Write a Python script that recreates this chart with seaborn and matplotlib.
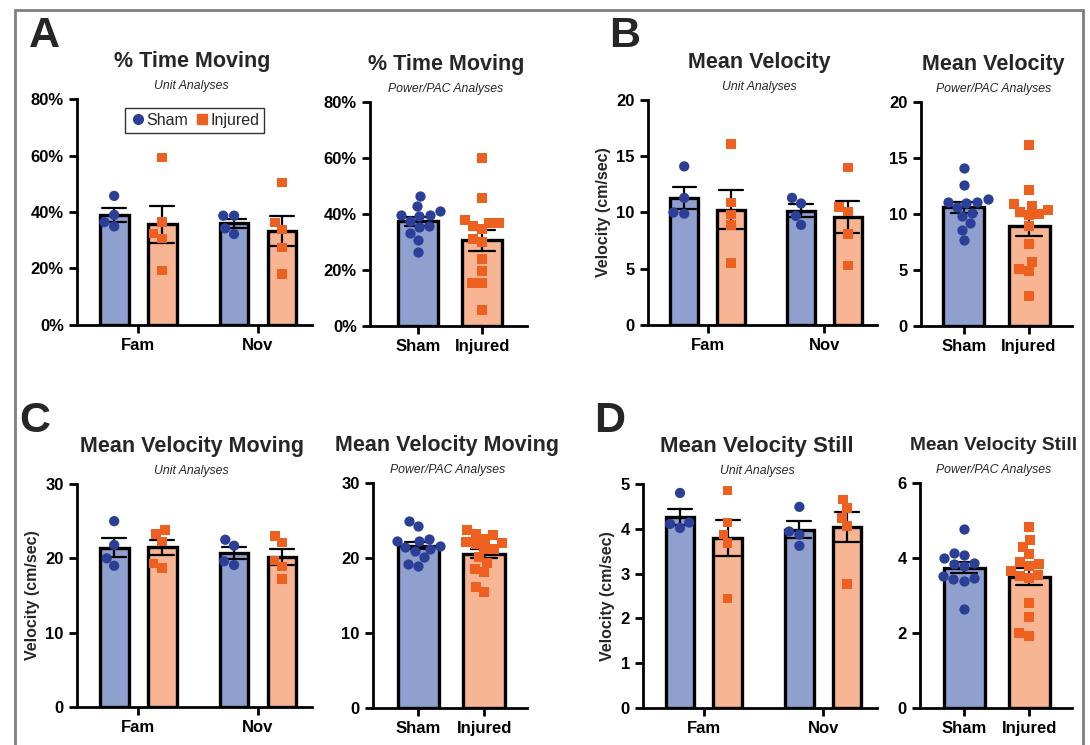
import numpy as np
import pandas as pd
import matplotlib
matplotlib.use("Agg")
import matplotlib.pyplot as plt
from matplotlib.lines import Line2D
from matplotlib.patches import Rectangle
from matplotlib.ticker import PercentFormatter
import seaborn as sns

sessions = ["Fam", "Nov"]
groups = ["Sham", "Injured"]

# A - % time moving
pct_fam_sham = [45.7, 39.0, 34.9, 36.4]
pct_fam_inj = [59.3, 36.4, 32.3, 30.6, 19.3]
pct_nov_sham = [38.7, 38.7, 32.2, 34.2]
pct_nov_inj = [50.5, 36.3, 33.9, 27.5, 18.0]
pct_pow_sham = [46.4, 42.9, 41.0, 39.8, 39.8, 39.3, 37.5, 35.6, 35.4, 33.2, 30.8, 26.4]
pct_pow_inj = [60.0, 45.7, 36.8, 36.8, 37.7, 35.6, 34.5, 31.0, 30.0, 23.8, 19.6, 15.4, 15.4, 5.8]

# B - mean velocity
vel_fam_sham = [14.1, 11.3, 9.9, 10.0]
vel_fam_inj = [16.1, 10.9, 9.8, 8.9, 5.5]
vel_nov_sham = [10.8, 11.3, 9.7, 8.9]
vel_nov_inj = [14.0, 10.5, 10.1, 8.1, 5.3]
vel_pow_sham = [14.1, 12.6, 11.0, 11.1, 11.3, 11.1, 10.6, 10.1, 9.8, 9.2, 8.6, 7.7]
vel_pow_inj = [16.2, 12.1, 10.9, 10.4, 10.7, 10.0, 10.2, 9.9, 8.9, 7.3, 5.7, 5.1, 4.9, 2.7]

# C - mean velocity moving
mov_fam_sham = [25.0, 21.8, 19.0, 20.0]
mov_fam_inj = [23.8, 23.3, 22.3, 18.7, 19.3]
mov_nov_sham = [21.7, 22.5, 19.1, 19.6]
mov_nov_inj = [23.0, 22.1, 19.7, 18.9, 17.2]
mov_pow_sham = [24.9, 24.3, 22.3, 22.3, 22.6, 21.6, 21.2, 21.0, 21.5, 20.1, 19.2, 18.9]
mov_pow_inj = [23.7, 23.1, 23.2, 22.5, 22.2, 22.0, 21.9, 21.2, 21.2, 20.1, 19.4, 18.6, 18.2, 16.2, 15.5]

# D - mean velocity still
still_fam_sham = [4.80, 4.14, 4.02, 4.11]
still_fam_inj = [4.86, 4.14, 3.87, 3.68, 2.44]
still_nov_sham = [4.49, 3.94, 3.87, 3.62]
still_nov_inj = [4.65, 4.46, 4.24, 4.06, 2.77]
still_pow_sham = [4.77, 4.13, 4.08, 3.88, 3.99, 3.85, 3.80, 3.52, 3.43, 3.48, 3.39, 2.64]
still_pow_inj = [4.82, 4.48, 4.30, 4.11, 3.90, 3.79, 3.83, 3.66, 3.46, 3.55, 3.53, 2.79, 2.43, 1.93, 1.99]

bar_colors = {"Sham": "#8fa0ce", "Injured": "#f7b593"}
dot_colors = {"Sham": "#2c3f96", "Injured": "#ee601f"}
markers = {"Sham": "o", "Injured": "s"}
sizes = {"Sham": 7.4, "Injured": 6.8}

sns.set_style("ticks")
plt.rcParams["font.family"] = ["Liberation Sans", "DejaVu Sans"]

W, H = 1090, 745
fig = plt.figure(figsize=(W / 100, H / 100), dpi=100)


def make_ax(left, top, right, bottom):
    return fig.add_axes([left / W, 1 - bottom / H, (right - left) / W, (bottom - top) / H])


def style_ax(ax, title, subtitle, ylim, yticks, ylabel, xlim, pct=False, title_size=15.5):
    ax.set_xlim(*xlim)
    ax.set_ylim(*ylim)
    ax.set_yticks(yticks)
    if pct:
        ax.yaxis.set_major_formatter(PercentFormatter(xmax=100, decimals=0))
    ax.set_xlabel("")
    ax.set_ylabel(ylabel, fontsize=11.5, fontweight="bold", labelpad=4)
    for s in ["top", "right"]:
        ax.spines[s].set_visible(False)
    for s in ["left", "bottom"]:
        ax.spines[s].set_linewidth(2.0)
        ax.spines[s].set_color("black")
    ax.tick_params(axis="both", width=2.0, length=6, labelsize=12, direction="out", colors="black")
    for lab in ax.get_xticklabels() + ax.get_yticklabels():
        lab.set_fontweight("bold")
    ax.annotate(title, xy=(0.5, 1), xycoords="axes fraction", xytext=(-2, 27),
                textcoords="offset points", ha="center", va="center",
                fontsize=title_size, fontweight="bold")
    ax.annotate(subtitle, xy=(0.5, 1), xycoords="axes fraction", xytext=(-2, 9.5),
                textcoords="offset points", ha="center", va="center",
                fontsize=8.8, style="italic")


def unit_panel(rect, fam_sham, fam_inj, nov_sham, nov_inj, **kw):
    rows = []
    for sess, g, vals in [("Fam", "Sham", fam_sham), ("Fam", "Injured", fam_inj),
                          ("Nov", "Sham", nov_sham), ("Nov", "Injured", nov_inj)]:
        rows += [{"session": sess, "group": g, "value": v} for v in vals]
    df = pd.DataFrame(rows)
    ax = make_ax(*rect)
    sns.barplot(data=df, x="session", y="value", hue="group", order=sessions,
                hue_order=groups, palette=bar_colors, saturation=1, errorbar="se",
                capsize=0.4, err_kws={"linewidth": 1.6, "color": "black"}, width=0.8,
                gap=0.4, edgecolor="black", linewidth=2.4, legend=False, ax=ax)
    for g in groups:
        sns.swarmplot(data=df[df.group == g], x="session", y="value", hue="group",
                      order=sessions, hue_order=groups, palette=dot_colors, dodge=True,
                      marker=markers[g], size=sizes[g], linewidth=0, legend=False, ax=ax)
    style_ax(ax, xlim=(-0.51, 1.45), **kw)
    return ax


def power_panel(rect, sham, inj, xlim, **kw):
    df = pd.DataFrame({"group": ["Sham"] * len(sham) + ["Injured"] * len(inj),
                       "value": list(sham) + list(inj)})
    ax = make_ax(*rect)
    sns.barplot(data=df, x="group", y="value", hue="group", order=groups,
                hue_order=groups, palette=bar_colors, saturation=1, errorbar="se",
                capsize=0.4, err_kws={"linewidth": 1.6, "color": "black"}, width=0.63,
                edgecolor="black", linewidth=2.4, legend=False, ax=ax)
    for g in groups:
        sns.swarmplot(data=df[df.group == g], x="group", y="value", order=groups,
                      color=dot_colors[g], marker=markers[g], size=sizes[g],
                      linewidth=0, ax=ax)
    style_ax(ax, xlim=xlim, **kw)
    return ax


axA = unit_panel((77, 99, 312, 325), pct_fam_sham, pct_fam_inj, pct_nov_sham, pct_nov_inj,
                 title="% Time Moving", subtitle="Unit Analyses", ylim=(0, 80),
                 yticks=[0, 20, 40, 60, 80], ylabel="", pct=True)
power_panel((370, 102, 527, 326), pct_pow_sham, pct_pow_inj, xlim=(-0.75, 1.7),
            title="% Time Moving", subtitle="Power/PAC Analyses", ylim=(0, 80),
            yticks=[0, 20, 40, 60, 80], ylabel="", pct=True)

unit_panel((648, 100, 877, 325), vel_fam_sham, vel_fam_inj, vel_nov_sham, vel_nov_inj,
           title="Mean Velocity", subtitle="Unit Analyses", ylim=(0, 20),
           yticks=[0, 5, 10, 15, 20], ylabel="Velocity (cm/sec)")
power_panel((921, 102, 1072, 326), vel_pow_sham, vel_pow_inj, xlim=(-0.66, 1.66),
            title="Mean Velocity", subtitle="Power/PAC Analyses", ylim=(0, 20),
            yticks=[0, 5, 10, 15, 20], ylabel="")

unit_panel((77, 484, 312, 707), mov_fam_sham, mov_fam_inj, mov_nov_sham, mov_nov_inj,
           title="Mean Velocity Moving", subtitle="Unit Analyses", ylim=(0, 30),
           yticks=[0, 10, 20, 30], ylabel="Velocity (cm/sec)")
power_panel((373, 483, 527, 708), mov_pow_sham, mov_pow_inj, xlim=(-0.69, 1.65),
            title="Mean Velocity Moving", subtitle="Power/PAC Analyses", ylim=(0, 30),
            yticks=[0, 10, 20, 30], ylabel="")

unit_panel((643, 484, 877, 708), still_fam_sham, still_fam_inj, still_nov_sham, still_nov_inj,
           title="Mean Velocity Still", subtitle="Unit Analyses", ylim=(0, 5),
           yticks=[0, 1, 2, 3, 4, 5], ylabel="Velocity (cm/sec)", title_size=16)
power_panel((920, 483, 1072, 708), still_pow_sham, still_pow_inj, xlim=(-0.68, 1.66),
            title="Mean Velocity Still", subtitle="Power/PAC Analyses", ylim=(0, 6),
            yticks=[0, 2, 4, 6], ylabel="", title_size=13.8)

# legend in panel A
handles = [Line2D([], [], marker="o", color=dot_colors["Sham"], linestyle="", markersize=7),
           Line2D([], [], marker="s", color=dot_colors["Injured"], linestyle="", markersize=6.5)]
leg = axA.legend(handles, groups, loc="center", bbox_to_anchor=(0.5, 0.905), ncol=2,
                 frameon=True, fancybox=False, edgecolor="black", fontsize=11.5,
                 handletextpad=0.0, columnspacing=0.4, borderpad=0.3, handlelength=1.0)
leg.get_frame().set_linewidth(1.0)

# panel letters
for letter, x, y in [("A", 44, 36), ("B", 625, 36), ("C", 35, 421), ("D", 610, 421)]:
    fig.text(x / W, 1 - y / H, letter, fontsize=31, fontweight="bold", ha="center", va="center")

# grey frame around figure
fig.patches.append(Rectangle((15 / W, -0.05), (1083 - 15) / W, 1.05 - 10 / H,
                             transform=fig.transFigure, fill=False,
                             edgecolor="#7f7f7f", linewidth=2))

fig.savefig("out.png", dpi=100, facecolor="white")
